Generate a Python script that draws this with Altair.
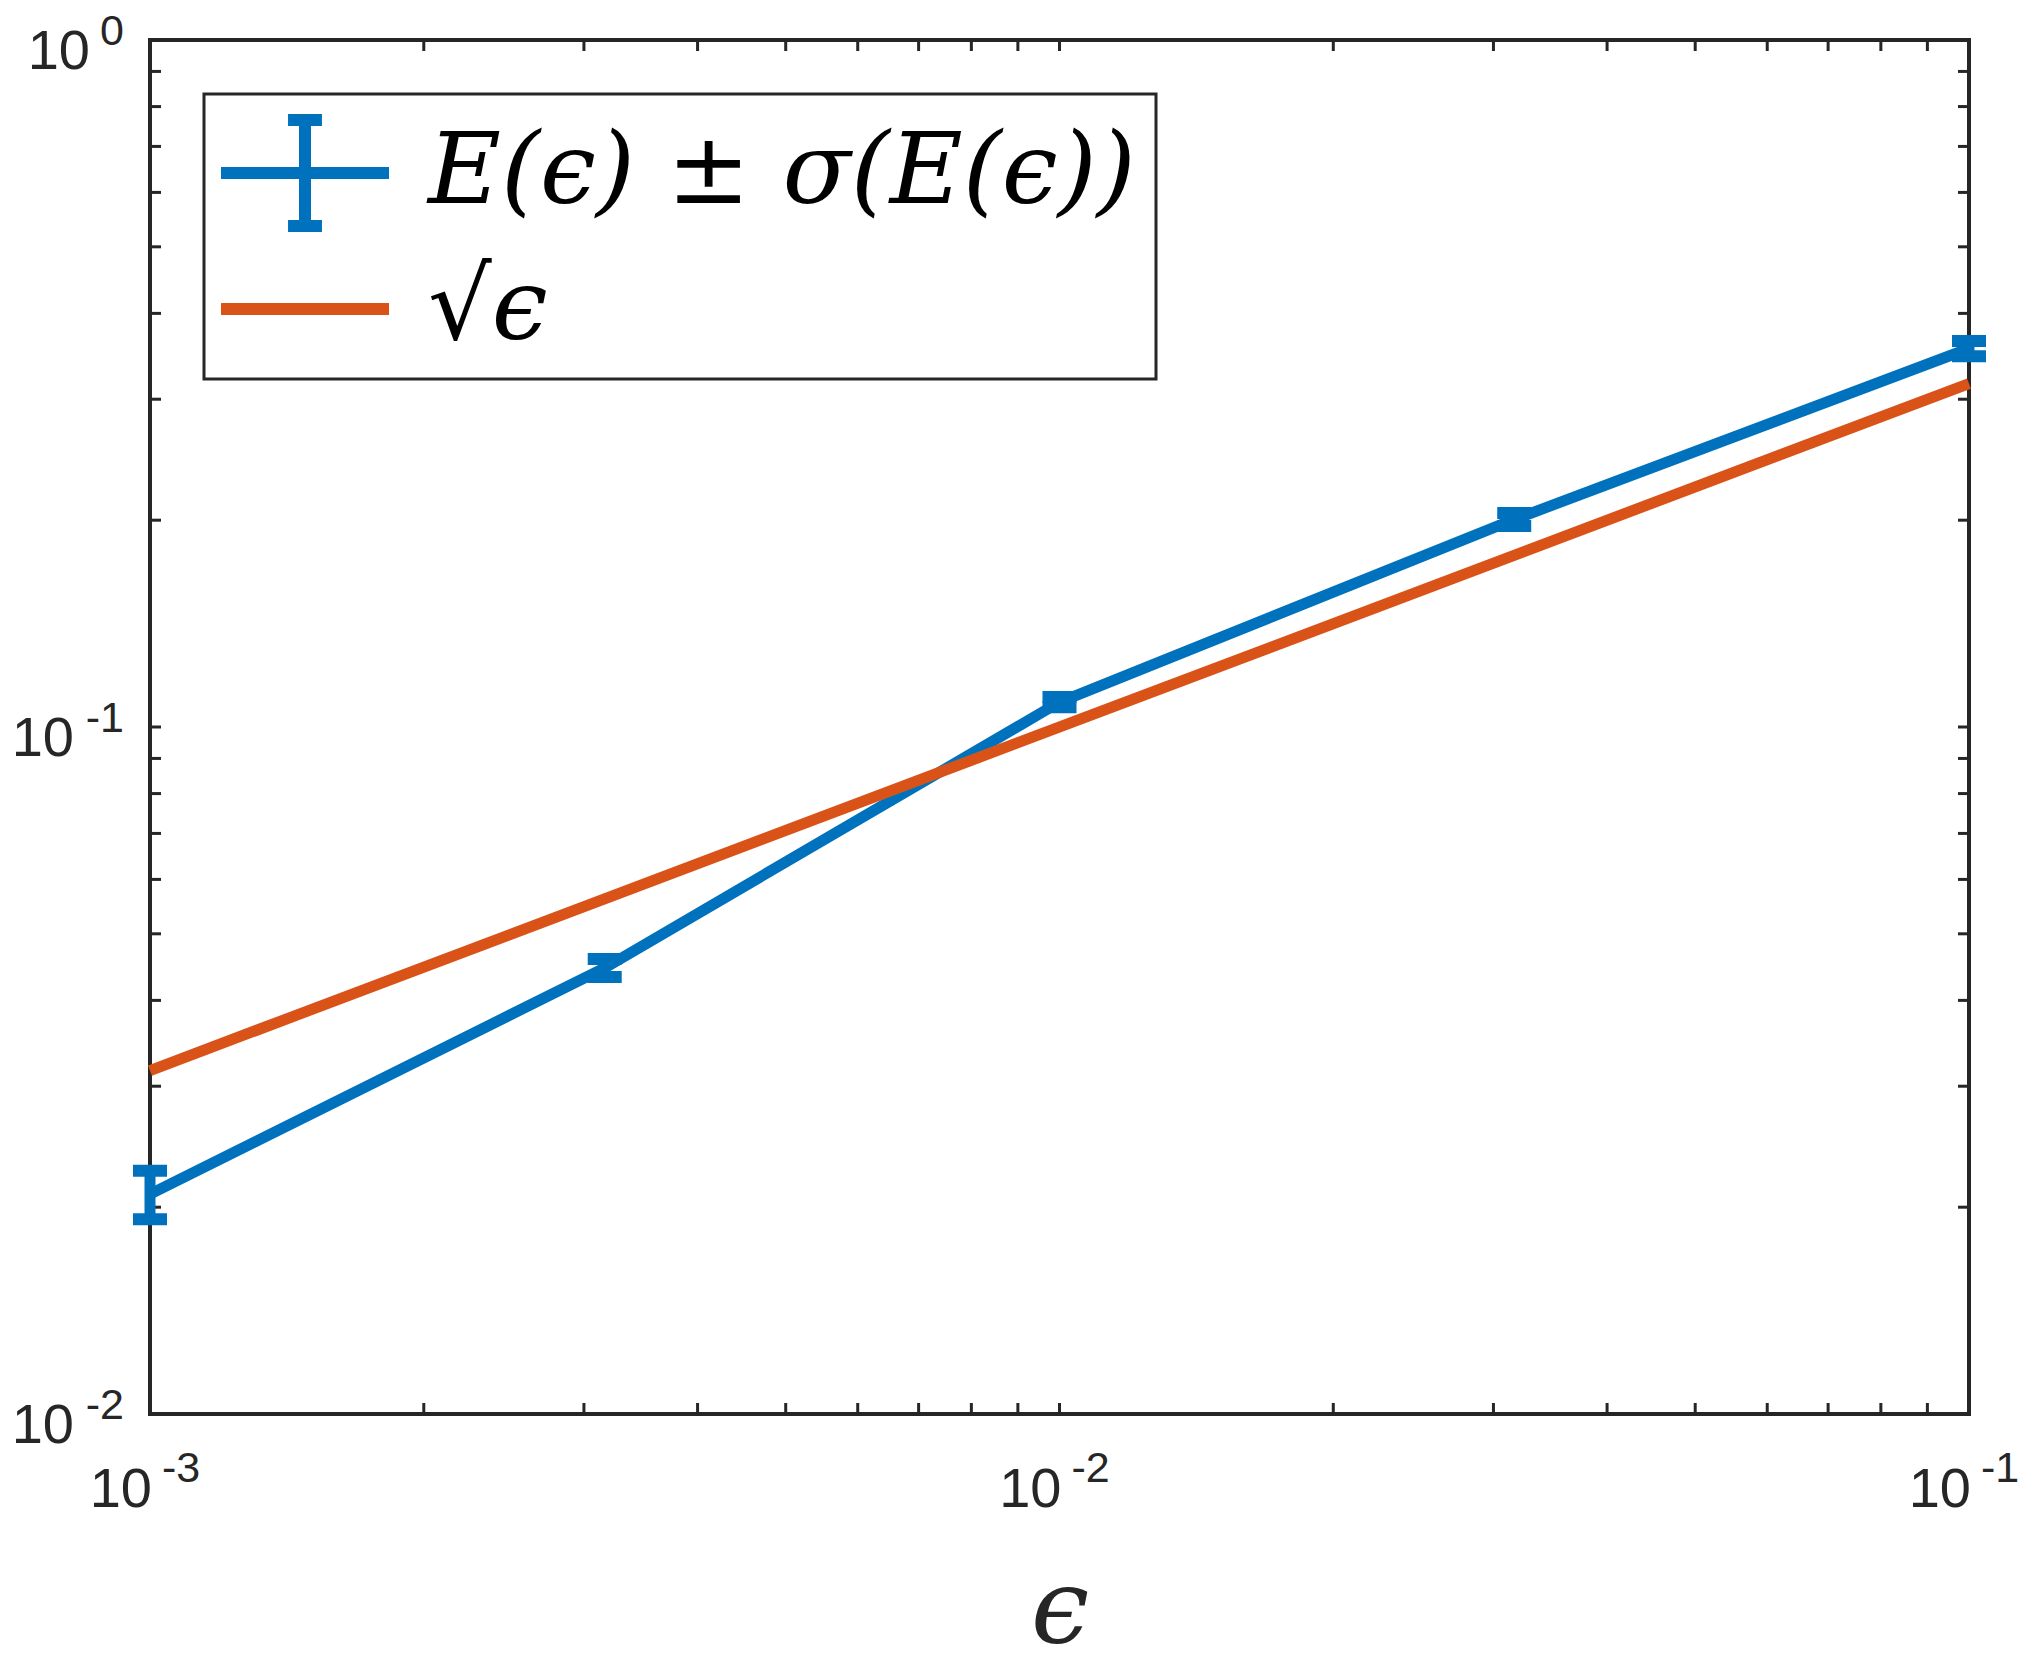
import altair as alt
import pandas as pd

# ---------------- data ----------------
eps = [0.001, 0.003162, 0.01, 0.03162, 0.1]
E_mean = [0.0209, 0.0446, 0.1087, 0.2005, 0.3556]
E_std = [0.0017, 0.00135, 0.00185, 0.0044, 0.0090]

sqrt_x = [0.001, 0.1]
sqrt_y = [0.03162, 0.3162]

series_labels = ["E(ϵ) ± σ(E(ϵ))", "√ϵ"]
series_colors = ["#0072BD", "#D95319"]

x_major = [0.001, 0.01, 0.1]
x_major_exp = ["-3", "-2", "-1"]
y_major = [1.0, 0.1, 0.01]
y_major_exp = ["0", "-1", "-2"]

x_ticks = [0.001, 0.002, 0.003, 0.004, 0.005, 0.006, 0.007, 0.008, 0.009,
           0.01, 0.02, 0.03, 0.04, 0.05, 0.06, 0.07, 0.08, 0.09, 0.1]
y_ticks = [0.01, 0.02, 0.03, 0.04, 0.05, 0.06, 0.07, 0.08, 0.09,
           0.1, 0.2, 0.3, 0.4, 0.5, 0.6, 0.7, 0.8, 0.9, 1.0]

# ---------------- frames ----------------
err = pd.DataFrame({"x": eps, "y": E_mean, "s": E_std})
err["lo"] = err["y"] - err["s"]
err["hi"] = err["y"] + err["s"]
sq = pd.DataFrame({"x": sqrt_x, "y": sqrt_y})
leg = pd.DataFrame({"x": [0.01, 0.01], "y": [0.1, 0.1], "series": series_labels})
xt = pd.DataFrame({"x": x_ticks})
yt = pd.DataFrame({"y": y_ticks})
xl = pd.DataFrame({"x": x_major, "exp": x_major_exp})
yl = pd.DataFrame({"y": y_major, "exp": y_major_exp})

W, H = 1819, 1374
AX = "#262626"
TICK = 11
SERIF = "DejaVu Serif"

xs = alt.Scale(type="log", domain=[0.001, 0.1], nice=False)
ys = alt.Scale(type="log", domain=[0.01, 1], nice=False)
xaxis = alt.Axis(labels=False, ticks=False, domain=False, grid=False, title="ϵ",
                 titleFont=SERIF, titleFontStyle="italic",
                 titleFontWeight="normal", titleFontSize=104, titleColor=AX,
                 titlePadding=146)

X = alt.X("x:Q", scale=xs, axis=xaxis)
Y = alt.Y("y:Q", scale=ys, axis=None)

blue, orange = series_colors

line_E = alt.Chart(err).mark_line(color=blue, strokeWidth=11, clip=False).encode(x=X, y=Y)
bar_E = alt.Chart(err).mark_rule(color=blue, strokeWidth=11).encode(
    x=X, y=alt.Y("lo:Q", scale=ys, axis=None), y2="hi:Q")
cap_lo = alt.Chart(err).mark_tick(color=blue, orient="horizontal", size=34,
                                  thickness=12, opacity=1).encode(
    x=X, y=alt.Y("lo:Q", scale=ys, axis=None))
cap_hi = alt.Chart(err).mark_tick(color=blue, orient="horizontal", size=34,
                                  thickness=12, opacity=1).encode(
    x=X, y=alt.Y("hi:Q", scale=ys, axis=None))
line_sq = alt.Chart(sq).mark_line(color=orange, strokeWidth=11).encode(x=X, y=Y)

# ticks (inward, on all four sides)
tick_b = alt.Chart(xt).mark_rule(color=AX, strokeWidth=3).encode(
    x=X, y=alt.value(H), y2=alt.value(H - TICK))
tick_t = alt.Chart(xt).mark_rule(color=AX, strokeWidth=3).encode(
    x=X, y=alt.value(0), y2=alt.value(TICK))
tick_l = alt.Chart(yt).mark_rule(color=AX, strokeWidth=3).encode(
    y=Y, x=alt.value(0), x2=alt.value(TICK))
tick_r = alt.Chart(yt).mark_rule(color=AX, strokeWidth=3).encode(
    y=Y, x=alt.value(W), x2=alt.value(W - TICK))

# tick labels 10^k
FONT = "Liberation Sans"
BASE_FS, EXP_FS = 56, 43
xl_base = alt.Chart(xl).mark_text(text="10", align="right", baseline="alphabetic",
                                  dx=2, dy=93, fontSize=BASE_FS, font=FONT, color=AX).encode(
    x=X, y=alt.value(H))
xl_exp = alt.Chart(xl).mark_text(align="left", baseline="alphabetic",
                                 dx=12, dy=68, fontSize=EXP_FS, font=FONT, color=AX).encode(
    x=X, y=alt.value(H), text="exp:N")
yl_exp = alt.Chart(yl).mark_text(align="right", baseline="alphabetic",
                                 dx=-26, dy=5, fontSize=EXP_FS, font=FONT, color=AX).encode(
    y=Y, x=alt.value(0), text="exp:N")
yl_base_neg = alt.Chart(yl).transform_filter("datum.exp != '0'").mark_text(
    text="10", align="right", baseline="alphabetic", dx=-76, dy=29,
    fontSize=BASE_FS, font=FONT, color=AX).encode(y=Y, x=alt.value(0))
yl_base_zero = alt.Chart(yl).transform_filter("datum.exp == '0'").mark_text(
    text="10", align="right", baseline="alphabetic", dx=-60, dy=29,
    fontSize=BASE_FS, font=FONT, color=AX).encode(y=Y, x=alt.value(0))

# legend (driven by an empty layer carrying colour + shape)
sym_err = "M-1.585,0H1.585M0,-1V1M-0.32,-1H0.32M-0.32,1H0.32"
sym_line = "M-1.585,0H1.585"
legend = alt.Legend(title=None, orient="none", legendX=54, legendY=54,
                    padding=20, rowPadding=0, symbolOffset=22, labelOffset=64,
                    labelFont=SERIF, labelFontStyle="italic",
                    labelFontSize=100, labelColor="black", labelLimit=3000,
                    fillColor="white", strokeColor=AX, symbolStrokeWidth=12,
                    symbolSize=11236, symbolOpacity=1)
leg_layer = alt.Chart(leg).transform_filter("false").mark_point(
    filled=False, size=11236, strokeWidth=12, opacity=1).encode(
    x=X, y=Y,
    color=alt.Color("series:N", scale=alt.Scale(domain=series_labels, range=series_colors),
                    legend=legend),
    shape=alt.Shape("series:N", scale=alt.Scale(domain=series_labels, range=[sym_err, sym_line]),
                    legend=legend),
)

chart = alt.layer(
    tick_b, tick_t, tick_l, tick_r,
    line_E, bar_E, cap_lo, cap_hi, line_sq,
    xl_base, xl_exp, yl_exp, yl_base_neg, yl_base_zero,
    leg_layer,
).properties(
    width=W, height=H,
    autosize=alt.AutoSizeParams(type="none"),
    padding={"left": 142, "top": 32, "right": 56, "bottom": 246},
).configure_view(stroke=AX, strokeWidth=4).configure_legend(strokeWidth=3)

chart.save("out.html", embed_options={"renderer": "svg", "actions": False})
